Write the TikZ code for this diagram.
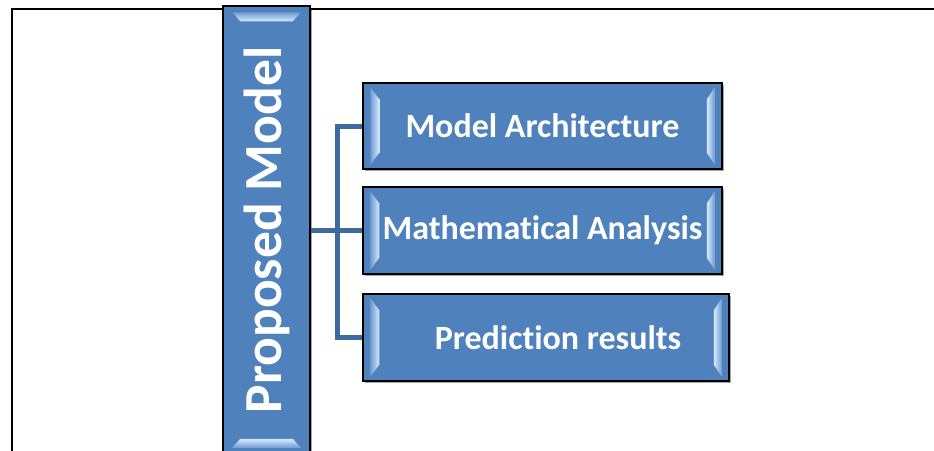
\documentclass[tikz,border=0pt]{standalone}
\usepackage{fontspec}
\setmainfont[Ligatures=NoCommon]{Carlito}
\usetikzlibrary{calc,shadows}

\definecolor{boxblue}{RGB}{79,129,189}
\definecolor{linkblue}{RGB}{62,106,158}
\definecolor{bevlow}{RGB}{112,155,208}
\definecolor{bevhigh}{RGB}{214,234,255}

\tikzset{
  topic/.style={draw=black, line width=1.5pt, fill=boxblue, text=white,
    font=\bfseries\fontsize{34}{40}\selectfont, inner sep=0pt,
    drop shadow={shadow xshift=2pt, shadow yshift=-2pt, fill=black, opacity=.35}},
  link/.style={draw=linkblue, line width=5pt},
}

\begin{document}
\begin{tikzpicture}[x=1pt,y=-1pt]
  \clip (0,0) rectangle (934,450);
  \fill[white] (0,0) rectangle (934,450);
  % outer frame, open to the right and bottom
  \draw[line width=2pt] (12,460) -- (12,9) -- (940,9);

  % main topic and its three parts
  \node[topic, minimum width=87pt, minimum height=448pt,
    font=\bfseries\fontsize{53.5}{60}\selectfont] (pm) at (266.5,230) {\rotatebox{90}{Proposed Model}};
  \node[topic, minimum width=359pt, minimum height=86pt] (b1) at (542.5,126) {Model Architecture};
  \node[topic, minimum width=359pt, minimum height=87pt] (b2) at (542.5,230.5) {Mathematical Analysis};
  \node[topic, minimum width=366pt, minimum height=87pt] (b3) at (546,337.5) {\hspace*{24pt}Prediction results};

  % bracket
  \coordinate (split) at (337,230.5);
  \draw[link] (pm.east |- b2.west) -- (b2.west);
  \draw[link] (b1.west) -| (split) |- (b3.west);

  % bevel highlights
  \foreach \b in {b1,b2,b3} {
    \shade[left color=bevlow, right color=bevhigh] ($(\b.north west)+(8,5)$) -- ($(\b.north west)+(17,17)$)
      -- ($(\b.south west)+(17,-17)$) -- ($(\b.south west)+(8,-5)$) -- cycle;
    \shade[left color=bevhigh, right color=bevlow] ($(\b.north east)+(-8,5)$) -- ($(\b.north east)+(-16,17)$)
      -- ($(\b.south east)+(-16,-17)$) -- ($(\b.south east)+(-8,-5)$) -- cycle;
  }
  \shade[top color=bevlow, bottom color=bevhigh] ($(pm.north west)+(10,7)$) -- ($(pm.north east)+(-10,7)$)
    -- ($(pm.north east)+(-18,16)$) -- ($(pm.north west)+(18,16)$) -- cycle;
  \shade[top color=bevhigh, bottom color=bevlow] ($(pm.south west)+(18,-16)$) -- ($(pm.south east)+(-18,-16)$)
    -- ($(pm.south east)+(-10,-7)$) -- ($(pm.south west)+(10,-7)$) -- cycle;
\end{tikzpicture}
\end{document}
